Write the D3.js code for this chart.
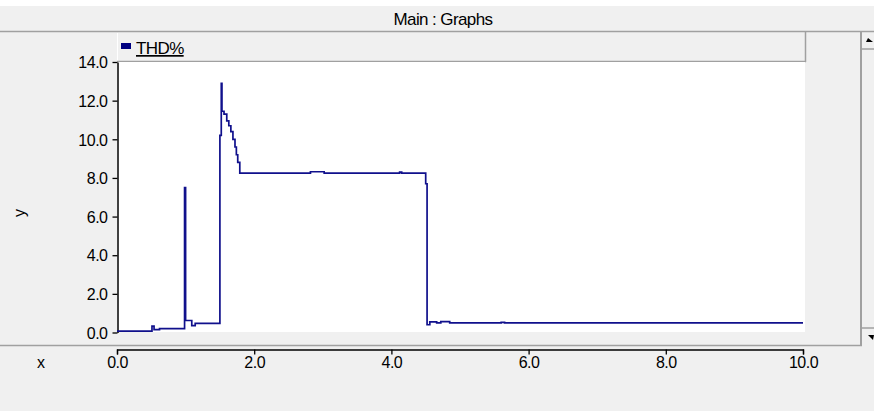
<!DOCTYPE html>
<html>
<head>
<meta charset="utf-8">
<script src="https://cdn.jsdelivr.net/npm/d3@7"></script>
<style>
  html, body { margin: 0; padding: 0; background: #f0f0f0; }
  svg { display: block; }
  text { font-family: "Liberation Sans", Arial, sans-serif; fill: #000; }
</style>
</head>
<body>
<svg id="chart" width="874" height="411"></svg>
<script>
// ---- data ----
const chartTitle = "Main : Graphs";
const seriesName = "THD%";
const xTicks = [0, 2, 4, 6, 8, 10];
const yTicks = [0, 2, 4, 6, 8, 10, 12, 14];
const timeS = [0, 0.51, 0.54, 0.62, 0.985, 1.0, 1.09, 1.14, 1.50, 1.52, 1.53, 1.56, 1.60, 1.63, 1.66, 1.69, 1.72, 1.74, 1.76, 1.79, 2.82, 3.02, 4.12, 4.15, 4.50, 4.52, 4.56, 4.66, 4.72, 4.85, 5.60, 5.65, 10.0];
const thdPct = [0.07, 0.33, 0.15, 0.2, 7.5, 0.62, 0.36, 0.47, 10.2, 12.9, 11.45, 11.3, 10.95, 10.7, 10.4, 10.0, 9.6, 9.2, 8.8, 8.25, 8.32, 8.25, 8.3, 8.25, 7.7, 0.4, 0.55, 0.5, 0.56, 0.5, 0.52, 0.5, 0.5];

const svg = d3.select("#chart");
const W = 874, H = 411;
const plot = { left: 117, right: 805, top: 62, bottom: 332 };
const FONT = "'Liberation Sans', Arial, sans-serif";

const x = d3.scaleLinear().domain([0, 10]).range([117, 803]);
const y = d3.scaleLinear().domain([0, 14]).range([332.5, 62]);

// background
svg.append("rect").attr("width", W).attr("height", H).attr("fill", "#f0f0f0");
svg.append("rect").attr("x", 0).attr("y", 0).attr("width", W).attr("height", 6).attr("fill", "#ffffff");

// title bar
svg.append("text").attr("x", 443).attr("y", 25).attr("text-anchor", "middle")
  .style("font-size", "17px").style("letter-spacing", "-0.6px").text(chartTitle);
svg.append("line").attr("x1", 0).attr("x2", W).attr("y1", 31.5).attr("y2", 31.5)
  .attr("stroke", "#a0a0a0").attr("stroke-width", 1.5);

// legend header
svg.append("line").attr("x1", 117.5).attr("x2", 117.5).attr("y1", 33).attr("y2", 61)
  .attr("stroke", "#ffffff");
svg.append("line").attr("x1", 805.5).attr("x2", 805.5).attr("y1", 32).attr("y2", 62)
  .attr("stroke", "#a0a0a0").attr("stroke-width", 1.5);
svg.append("line").attr("x1", 117).attr("x2", 806).attr("y1", 61.5).attr("y2", 61.5)
  .attr("stroke", "#a0a0a0").attr("stroke-width", 1.5);
svg.append("rect").attr("x", 121).attr("y", 43).attr("width", 10).attr("height", 6).attr("fill", "#000080");
svg.append("text").attr("x", 136).attr("y", 54).style("font-size", "17px")
  .style("letter-spacing", "-0.6px").style("text-decoration", "underline").text(seriesName);

// plot area
svg.append("rect").attr("x", plot.left).attr("y", plot.top)
  .attr("width", plot.right - plot.left).attr("height", plot.bottom - plot.top).attr("fill", "#ffffff");

// y axis
const yAxis = d3.axisLeft(y).tickValues(yTicks).tickFormat(d3.format(".1f")).tickSizeInner(5).tickSizeOuter(0);
const gy = svg.append("g").attr("transform", "translate(117.5,0)").call(yAxis);
gy.select(".domain").attr("stroke", "#000").attr("stroke-width", 1.5);
gy.selectAll(".tick line").attr("stroke", "#000").attr("stroke-width", 1.3);
gy.selectAll(".tick text").style("font-size", "16px").style("font-family", FONT)
  .style("letter-spacing", "-0.5px").attr("x", -10).attr("dy", "0.36em");

svg.append("text").attr("transform", "translate(25,213) rotate(-90)").attr("text-anchor", "middle")
  .style("font-size", "16px").text("y");

// series line
const pts = timeS.map((t, i) => [t, thdPct[i]]);
const line = d3.line().x(d => x(d[0])).y(d => y(d[1])).curve(d3.curveStepAfter);
svg.append("path").datum(pts).attr("d", line).attr("fill", "none")
  .attr("stroke", "#10108c").attr("stroke-width", 1.7).attr("stroke-linejoin", "miter");

// separator above x axis
svg.append("line").attr("x1", 0).attr("x2", 862).attr("y1", 345.5).attr("y2", 345.5)
  .attr("stroke", "#a0a0a0").attr("stroke-width", 1.5);

// x axis
const xAxis = d3.axisBottom(x).tickValues(xTicks).tickFormat(d3.format(".1f")).tickSizeInner(5).tickSizeOuter(5);
const gx = svg.append("g").attr("transform", "translate(0,349.5)").call(xAxis);
gx.select(".domain").attr("stroke", "#000").attr("stroke-width", 1.3);
gx.selectAll(".tick line").attr("stroke", "#000").attr("stroke-width", 1.3);
gx.selectAll(".tick text").style("font-size", "16px").style("font-family", FONT)
  .style("letter-spacing", "-0.5px").attr("y", 7).attr("dy", "0.71em");
svg.append("text").attr("x", 41).attr("y", 368).attr("text-anchor", "middle")
  .style("font-size", "16px").text("x");

// scrollbar
svg.append("line").attr("x1", 861).attr("x2", 861).attr("y1", 32).attr("y2", 346)
  .attr("stroke", "#a0a0a0").attr("stroke-width", 2);
svg.append("line").attr("x1", 862).attr("x2", W).attr("y1", 49).attr("y2", 49)
  .attr("stroke", "#a0a0a0").attr("stroke-width", 1.5);
svg.append("line").attr("x1", 862).attr("x2", W).attr("y1", 328).attr("y2", 328)
  .attr("stroke", "#a0a0a0").attr("stroke-width", 1.5);
svg.append("path").attr("d", "M868,38 L873,42 L866,42 Z").attr("fill", "#000");
svg.append("path").attr("d", "M868,335 L874,335 L873,340 Z").attr("fill", "#000");
</script>
</body>
</html>
